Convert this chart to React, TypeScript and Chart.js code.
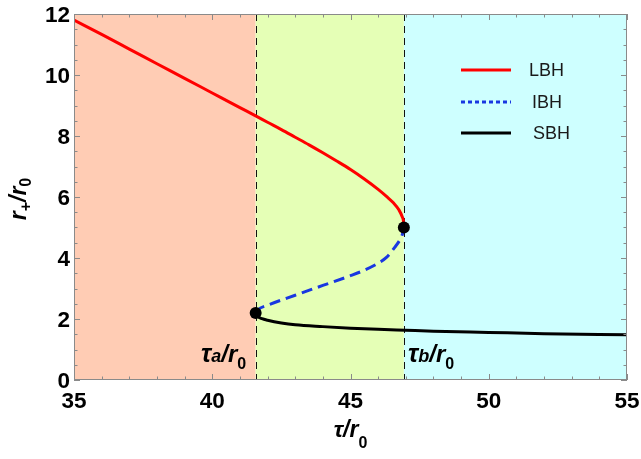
import React, { useEffect, useRef } from "react";
import { Chart, registerables } from "chart.js";

Chart.register(...registerables);

// ---- data ----
const lbhX = [35, 36, 37, 38, 39, 40, 41, 41.57, 42, 42.5, 43, 43.5, 44, 44.5, 45, 45.5, 46, 46.3, 46.55, 46.75, 46.87, 46.92, 46.93];
const lbhY = [11.8, 11.33, 10.85, 10.37, 9.89, 9.41, 8.93, 8.66, 8.45, 8.21, 7.96, 7.71, 7.45, 7.18, 6.9, 6.59, 6.25, 6.02, 5.81, 5.58, 5.35, 5.17, 5.0];

const ibhX = [41.57, 41.65, 42, 43, 44, 45, 45.5, 46, 46.3, 46.6, 46.8, 46.9, 46.93];
const ibhY = [2.2, 2.3, 2.45, 2.78, 3.1, 3.42, 3.6, 3.83, 4.02, 4.35, 4.62, 4.85, 5.0];

const sbhX = [41.57, 41.65, 41.8, 42, 42.5, 43, 44, 45, 46, 47, 48, 50, 52, 55];
const sbhY = [2.2, 2.08, 2.01, 1.96, 1.87, 1.81, 1.75, 1.7, 1.66, 1.63, 1.6, 1.56, 1.52, 1.48];

const criticalX = [41.57, 46.93];
const criticalY = [2.2, 5.0];

const tauA = 41.57;
const tauB = 46.93;

const xMin = 35, xMax = 55, xMajor = 5, xMinor = 1;
const yMin = 0, yMax = 12, yMajor = 2, yMinor = 0.5;
const xTickLabels = ["35", "40", "45", "50", "55"];
const yTickLabels = ["0", "2", "4", "6", "8", "10", "12"];

const legendLabels = ["LBH", "IBH", "SBH"];

const FONT = "'Liberation Sans', Arial, Helvetica, sans-serif";
const RED = "rgb(255,0,0)";
const BLUE = "rgb(25,55,225)";
const BLACK = "#000";
const BG_A = "rgb(255,204,180)";
const BG_B = "rgb(229,255,182)";
const BG_C = "rgb(206,255,255)";

type Run = { t: string; size: number; style?: string; dy?: number };

function drawRuns(ctx: CanvasRenderingContext2D, runs: Run[], x: number, y: number, align: "left" | "center") {
  const fontOf = (r: Run) => `${r.style ?? "bold italic"} ${r.size}px ${FONT}`;
  let total = 0;
  for (const r of runs) {
    ctx.font = fontOf(r);
    total += ctx.measureText(r.t).width;
  }
  let cx = align === "center" ? x - total / 2 : x;
  ctx.textAlign = "left";
  ctx.textBaseline = "alphabetic";
  for (const r of runs) {
    ctx.font = fontOf(r);
    ctx.fillText(r.t, cx, y + (r.dy ?? 0));
    cx += ctx.measureText(r.t).width;
  }
}

const toPts = (xs: number[], ys: number[]) => xs.map((x, i) => ({ x, y: ys[i] }));

const decorPlugin = {
  id: "decor",
  beforeDatasetsDraw(chart: any) {
    const { ctx, chartArea: a, scales } = chart;
    const xs = scales.x;
    const pa = xs.getPixelForValue(tauA);
    const pb = xs.getPixelForValue(tauB);
    ctx.save();
    ctx.fillStyle = BG_A;
    ctx.fillRect(a.left, a.top, pa - a.left, a.bottom - a.top);
    ctx.fillStyle = BG_B;
    ctx.fillRect(pa, a.top, pb - pa, a.bottom - a.top);
    ctx.fillStyle = BG_C;
    ctx.fillRect(pb, a.top, a.right - pb, a.bottom - a.top);
    ctx.strokeStyle = "#111";
    ctx.lineWidth = 1;
    ctx.setLineDash([7, 5]);
    for (const p of [pa, pb]) {
      const px = Math.round(p) + 0.5;
      ctx.beginPath();
      ctx.moveTo(px, a.top);
      ctx.lineTo(px, a.bottom);
      ctx.stroke();
    }
    ctx.restore();
  },
  afterDraw(chart: any) {
    const { ctx, chartArea: a, scales } = chart;
    const xs = scales.x;
    const ys = scales.y;
    ctx.save();
    // frame
    ctx.strokeStyle = "#8a8a8a";
    ctx.lineWidth = 1;
    ctx.setLineDash([]);
    ctx.strokeRect(a.left + 0.5, a.top + 0.5, a.right - a.left - 1, a.bottom - a.top - 1);
    // ticks
    ctx.beginPath();
    for (let v = xMin; v <= xMax + 1e-9; v += xMinor) {
      const major = Math.abs(v / xMajor - Math.round(v / xMajor)) < 1e-6;
      const len = major ? 6 : 3.5;
      const px = Math.round(xs.getPixelForValue(v)) + 0.5;
      ctx.moveTo(px, a.bottom);
      ctx.lineTo(px, a.bottom - len);
      ctx.moveTo(px, a.top);
      ctx.lineTo(px, a.top + len);
    }
    for (let v = yMin; v <= yMax + 1e-9; v += yMinor) {
      const major = Math.abs(v / yMajor - Math.round(v / yMajor)) < 1e-6;
      const len = major ? 6 : 3.5;
      const py = Math.round(ys.getPixelForValue(v)) + 0.5;
      ctx.moveTo(a.left, py);
      ctx.lineTo(a.left + len, py);
      ctx.moveTo(a.right, py);
      ctx.lineTo(a.right - len, py);
    }
    ctx.stroke();

    // tick labels
    ctx.fillStyle = "#000";
    ctx.font = `bold 22.5px ${FONT}`;
    ctx.textBaseline = "alphabetic";
    ctx.textAlign = "center";
    xTickLabels.forEach((lab) => {
      const v = parseFloat(lab);
      ctx.fillText(lab, xs.getPixelForValue(v), 408);
    });
    ctx.textAlign = "right";
    yTickLabels.forEach((lab) => {
      const v = parseFloat(lab);
      ctx.fillText(lab, 70, ys.getPixelForValue(v) + 8);
    });

    // axis titles
    drawRuns(
      ctx,
      [
        { t: "\u03c4/", size: 23 },
        { t: "r", size: 23 },
        { t: "0", size: 16, style: "bold", dy: 11 },
      ],
      (a.left + a.right) / 2,
      437,
      "center"
    );
    ctx.save();
    ctx.translate(26, (a.top + a.bottom) / 2 + 2);
    ctx.rotate(-Math.PI / 2);
    drawRuns(
      ctx,
      [
        { t: "r", size: 23 },
        { t: "+", size: 16, style: "bold", dy: 5 },
        { t: "/", size: 23 },
        { t: "r", size: 23 },
        { t: "0", size: 16, style: "bold", dy: 5 },
      ],
      0,
      0,
      "center"
    );
    ctx.restore();

    // annotations
    drawRuns(
      ctx,
      [
        { t: "\u03c4", size: 25 },
        { t: "a", size: 18, dy: 0 },
        { t: "/r", size: 24 },
        { t: "0", size: 16, style: "bold", dy: 7 },
      ],
      201,
      362,
      "left"
    );
    drawRuns(
      ctx,
      [
        { t: "\u03c4", size: 25 },
        { t: "b", size: 18, dy: 0 },
        { t: "/r", size: 24 },
        { t: "0", size: 16, style: "bold", dy: 7 },
      ],
      408,
      362,
      "left"
    );

    // legend
    const legendY = [70, 102, 133];
    const legendTextX = [529, 532, 533];
    const legendStyles = [
      { c: RED, dash: [] as number[] },
      { c: BLUE, dash: [4, 3] },
      { c: BLACK, dash: [] as number[] },
    ];
    for (let i = 0; i < legendLabels.length; i++) {
      ctx.strokeStyle = legendStyles[i].c;
      ctx.lineWidth = 3;
      ctx.setLineDash(legendStyles[i].dash);
      ctx.beginPath();
      ctx.moveTo(461, legendY[i]);
      ctx.lineTo(511, legendY[i]);
      ctx.stroke();
      ctx.setLineDash([]);
      ctx.fillStyle = "#1a1a1a";
      ctx.font = `18px ${FONT}`;
      ctx.textAlign = "left";
      ctx.textBaseline = "middle";
      ctx.fillText(legendLabels[i], legendTextX[i], legendY[i] + 1);
    }
    ctx.restore();
  },
};

export default function App() {
  const ref = useRef<HTMLCanvasElement | null>(null);
  useEffect(() => {
    if (!ref.current) return;
    const chart = new Chart(ref.current, {
      type: "scatter",
      data: {
        datasets: [
          {
            label: "critical",
            data: toPts(criticalX, criticalY),
            showLine: false,
            pointRadius: 6,
            pointBackgroundColor: BLACK,
            pointBorderColor: BLACK,
            pointBorderWidth: 0,
          },
          {
            label: "LBH",
            data: toPts(lbhX, lbhY),
            showLine: true,
            borderColor: RED,
            borderWidth: 3,
            pointRadius: 0,
            cubicInterpolationMode: "monotone",
          },
          {
            label: "IBH",
            data: toPts(ibhX, ibhY),
            showLine: true,
            borderColor: BLUE,
            borderWidth: 3,
            borderDash: [11, 6],
            pointRadius: 0,
            cubicInterpolationMode: "monotone",
          },
          {
            label: "SBH",
            data: toPts(sbhX, sbhY),
            showLine: true,
            borderColor: BLACK,
            borderWidth: 3,
            pointRadius: 0,
            cubicInterpolationMode: "monotone",
          },
        ],
      },
      options: {
        responsive: false,
        animation: false,
        devicePixelRatio: 1,
        layout: { padding: { top: 14, right: 14, left: 74, bottom: 79 } },
        plugins: { legend: { display: false }, tooltip: { enabled: false } },
        scales: {
          x: { type: "linear", min: xMin, max: xMax, display: false },
          y: { type: "linear", min: yMin, max: yMax, display: false },
        },
      },
      plugins: [decorPlugin],
    });
    return () => chart.destroy();
  }, []);
  return (
    <div style={{ position: "absolute", left: 0, top: 0, width: 641, height: 459, background: "#fff" }}>
      <canvas ref={ref} width={641} height={459} style={{ width: 641, height: 459 }} />
    </div>
  );
}
